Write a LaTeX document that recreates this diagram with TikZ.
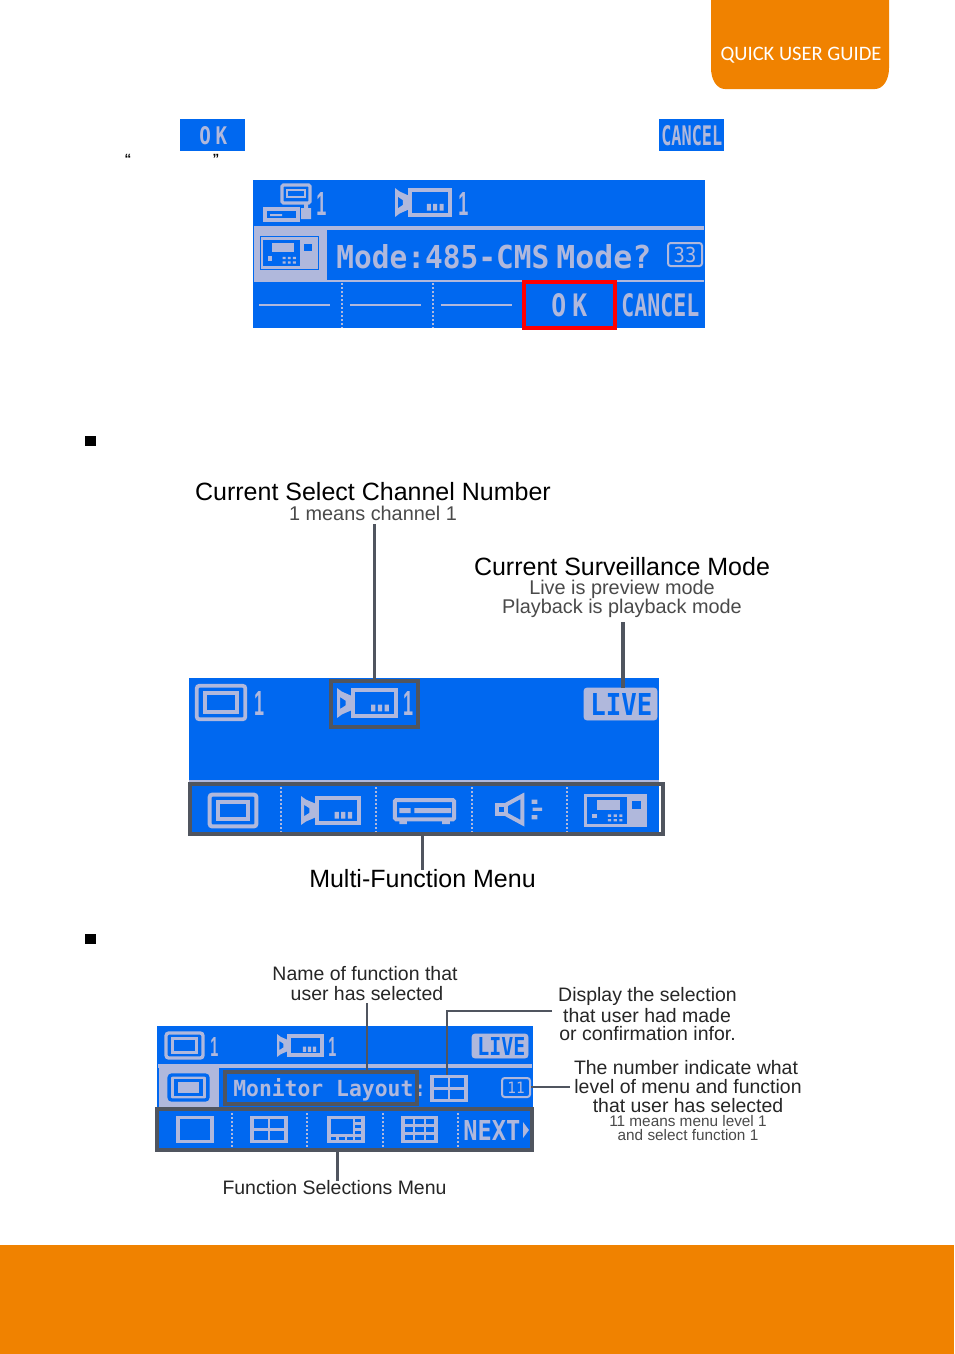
\documentclass[tikz,border=0pt]{standalone}
\usepackage{graphicx}
\usepackage{fontspec}
\setmainfont{Liberation Sans}
\newfontfamily\guidefont{Carlito}
\newfontfamily\lcdfont{DejaVu Sans Mono}
\definecolor{orangeband}{HTML}{F08200}
\definecolor{lcdblue}{HTML}{0068F0}
\definecolor{lcdfg}{HTML}{B0B8DC}
\definecolor{callout}{HTML}{50555F}
\definecolor{subtext}{HTML}{4A4A4A}
% box node from corners: style,name,x1,y1,x2,y2
\newcommand\bx[6]{\node[#1,minimum width={(#5-#3)*0.75pt},minimum height={(#6-#4)*0.75pt}] (#2) at ({(#3+#5)/2},{(#4+#6)/2}) {};}
% fitted LCD text: colour,x1,top,x2,baseline,text
\newcommand\lcd[6]{\pgfmathsetmacro\lw{(#4-#2)*0.75}\pgfmathsetmacro\lh{(#5-#3)*0.75}\node[anchor=base west,inner sep=0pt,text=#1] at (#2,#5) {\resizebox{\lw pt}{\lh pt}{\lcdfont\bfseries #6}};}
% LCD digit in a footless sans
\newcommand\lcdone[4]{\pgfmathsetmacro\lw{(#3-#1)*0.75}\pgfmathsetmacro\lh{(#4-#2)*0.75}\node[anchor=base west,inner sep=0pt,text=lcdfg] at (#1,#4) {\resizebox{\lw pt}{\lh pt}{\bfseries 1}};}
% icon frame: x1,y1,x2,y2, contents in a 0..100 box
\newcommand\place[5]{\pgfmathsetmacro\qw{(#3-#1)*0.0075}\pgfmathsetmacro\qh{(#4-#2)*0.0075}\begin{scope}[shift={(#1,#2)},x=\qw pt,y=-\qh pt]#5\end{scope}}
\newcommand\icmon[2][lcdfg]{\draw[#1,line width=#2pt,rounded corners=2pt] (5,7) rectangle (95,93);\draw[#1,line width=#2pt] (21,26) rectangle (79,74);}
\newcommand\iccam{\fill[lcdfg,even odd rule] (0,0) -- (8,12) -- (26,28) -- (26,72) -- (8,88) -- (0,100) -- cycle (5,30) -- (14,42) -- (14,58) -- (5,70) -- cycle;\draw[lcdfg,line width=3pt] (27,8) rectangle (97,92);\fill[lcdfg] (56,55) rectangle (63,78) (67,55) rectangle (74,78) (78,55) rectangle (85,78);}
\newcommand\iccons{\fill[lcdfg] (0,0) rectangle (100,100);\fill[lcdblue] (4,8) rectangle (68,92);\fill[lcdfg] (20,18) rectangle (57,48);\fill[lcdblue] (76,22) rectangle (90,44);\fill[lcdfg] (12,60) rectangle (20,74);\foreach\a in {38,47,56}{\fill[lcdfg] (\a,62) rectangle +(5,7) (\a,76) rectangle +(5,7);}}
\newcommand\icdvr{\draw[lcdfg,line width=3pt,rounded corners=1pt] (3,8) rectangle (97,82);\fill[lcdfg] (10,39) rectangle (28,58) (34,39) rectangle (92,58);\fill[lcdfg] (10,82) rectangle (22,100) (78,82) rectangle (90,100);}
\newcommand\icspk{\draw[lcdfg,line width=3pt] (4,34) rectangle (24,66);\draw[lcdfg,line width=3pt] (24,34) -- (58,6) -- (58,94) -- (24,66);\fill[lcdfg] (78,18) rectangle (90,32) (80,44) rectangle (100,54) (78,68) rectangle (90,82);}
\newcommand\icgrid[3][2.4]{\draw[lcdfg,line width=#1pt] (3,5) rectangle (97,95);\foreach\i in {1,...,#2}{\ifnum\i<#2\draw[lcdfg,line width=2pt] ({3+94*\i/#2},5) -- ({3+94*\i/#2},95);\fi}\foreach\i in {1,...,#3}{\ifnum\i<#3\draw[lcdfg,line width=2pt] (3,{5+90*\i/#3}) -- (97,{5+90*\i/#3});\fi}}
\tikzset{
  x=0.75pt,y=-0.75pt,
  panel/.style={fill=lcdblue,inner sep=0pt,outer sep=0pt},
  slab/.style={fill=lcdfg,inner sep=0pt,outer sep=0pt},
  callbox/.style={draw=callout,line width=2.4pt,inner sep=0pt,outer sep=0pt},
  redbox/.style={draw=red,line width=2.4pt,inner sep=0pt,outer sep=0pt},
  callline/.style={draw=callout,line width=2.5pt},
  thinline/.style={draw=callout,line width=2pt},
  rule/.style={draw=lcdfg,line width=3.2pt},
  fine/.style={draw=lcdfg,line width=1.6pt},
  sep/.style={draw=lcdfg,line width=1.5pt,dash pattern=on 1.3pt off 1.7pt},
  big/.style={inner sep=0pt,font=\fontsize{18.75pt}{18.75pt}\selectfont,text=black},
  mid/.style={inner sep=0pt,font=\fontsize{14.9pt}{14.9pt}\selectfont,text=subtext},
  lab/.style={inner sep=0pt,font=\fontsize{14.6pt}{14.6pt}\selectfont,text=black!85},
  tiny/.style={inner sep=0pt,font=\fontsize{11.5pt}{11.5pt}\selectfont,text=subtext},
}
\begin{document}
\begin{tikzpicture}
\useasboundingbox (0,0) rectangle (954,1354);
\fill[white] (0,0) rectangle (954,1354);
% page furniture
\fill[orangeband] (0,1245) rectangle (954,1354);
\fill[orangeband] (711,0) -- (889,0) -- (889,68) .. controls (889,80) and (883,89) .. (875,89) -- (725,89) .. controls (717,89) and (711,80) .. (711,68) -- cycle;
\node[inner sep=0pt,text=white,font=\guidefont\fontsize{15.4pt}{15.4pt}\selectfont] (guide) at (801,55) {QUICK USER GUIDE};
\fill[black] (85,436) rectangle (96,446);
\fill[black] (85,934) rectangle (96,944);
\node[inner sep=0pt,font=\bfseries\fontsize{10pt}{10pt}\selectfont] (qo) at (128,159) {“};
\node[inner sep=0pt,font=\bfseries\fontsize{10pt}{10pt}\selectfont] (qc) at (216,159) {”};
% inline buttons
\bx{panel}{okbtn}{180}{119}{245}{151}
\bx{panel}{cancelbtn}{659}{119}{724}{151}
\lcd{lcdfg}{199}{126}{227}{144}{O\kern.25em K}
\lcd{lcdfg}{661}{125}{722}{145}{CANCEL}
% panel 1
\bx{panel}{panelA}{253}{180}{705}{328}
\draw[lcdfg,line width=2.4pt,rounded corners=1pt] (282,185) rectangle (310,203);
\draw[lcdfg,line width=1.6pt] (287,190) rectangle (305,197);
\draw[lcdfg,line width=2.4pt] (265,209) rectangle (298,220);
\fill[lcdfg] (301,208) rectangle (311,219) (304,203) rectangle (308,209) (270,214) rectangle (282,216);
\lcdone{316}{192}{326}{215}
\place{395}{188}{452}{217}{\iccam}
\lcdone{458}{192}{468}{215}
\draw[rule] (254,228) -- (704,228);
\draw[rule,line width=2pt] (254,281) -- (704,281);
\bx{slab}{modeicon}{254}{226}{327}{282}
\place{261}{237}{318}{269}{\fill[lcdblue] (-2,-3) rectangle (102,103);\iccons}
\lcd{lcdfg}{336}{244}{549}{268}{Mode:485-CMS}
\lcd{lcdfg}{556}{244}{651}{268}{Mode?}
\draw[lcdfg,line width=1.5pt,rounded corners=2pt] (668,243) rectangle (702,266);
\node[inner sep=0pt,text=lcdfg] (levelA) at (685,255) {\resizebox{17pt}{11.5pt}{\lcdfont 33}};
\draw[sep] (342,283) -- (342,328);
\draw[sep] (433,283) -- (433,328);
\draw[sep,line width=.8pt] (523,283) -- (523,328);
\draw[fine] (259,305) -- (330,305);
\draw[fine] (350,305) -- (421,305);
\draw[fine] (441,305) -- (512,305);
\lcd{lcdfg}{551}{293}{587}{316}{O\kern.25em K}
\lcd{lcdfg}{621}{293}{699}{316}{CANCEL}
\bx{redbox}{okframe}{524}{282}{615}{328}
% panel 2
\node[big] (chan) at (373,492) {Current Select Channel Number};
\node[mid] (chansub) at (373,513) {1 means channel 1};
\node[big] (surv) at (622,567) {Current Surveillance Mode};
\node[mid] (survlive) at (622,589.5) {Live is preview mode};
\node[mid] (survplay) at (622,608.5) {Playback is playback mode};
\bx{panel}{panelB}{189}{678}{659}{834}
\place{194}{683}{248}{722}{\icmon{2.8}}
\lcdone{254}{691}{264}{715}
\place{337}{688}{398}{718}{\iccam}
\lcdone{403}{691}{413}{715}
\bx{callbox}{chanbox}{331}{681}{418}{727}
\draw[fill=lcdfg,draw=lcdfg,rounded corners=2pt] (584,688) rectangle (657,720);
\lcd{lcdblue}{590}{693}{652}{715}{LIVE}
\coordinate (livetop) at (623,688);
\draw[lcdfg,line width=.8pt] (189,781) -- (659,781);
\bx{callbox}{menubar}{190}{784}{663}{834}
\draw[sep] (281,787) -- (281,832);
\draw[sep] (376,787) -- (376,832);
\draw[sep] (472,787) -- (472,832);
\draw[sep] (567,787) -- (567,832);
\place{207}{792}{259}{829}{\icmon{3}}
\place{301}{796}{361}{825}{\iccam}
\place{393}{798}{456}{824}{\icdvr}
\place{495}{794}{542}{825}{\icspk}
\place{584}{794}{647}{827}{\iccons}
\node[big] (multi) at (422.5,879) {Multi-Function Menu};
\draw[callline] (chanbox.north) -- ([yshift=-2.5pt]chanbox.north |- chansub.south);
\draw[callline] (livetop) -- ([yshift=-3pt]livetop |- survplay.south);
\draw[thinline] (menubar.south -| multi.north) -- (multi.north);
% panel 3
\node[lab] (name1) at (365,973.5) {Name of function that};
\node[lab] (name2) at (367,993.5) {user has selected};
\node[lab] (disp1) at (647.5,996.5) {Display the selection};
\node[lab] (disp2) at (647,1015.5) {that user had made};
\node[lab] (disp3) at (647.5,1034) {or confirmation infor.};
\node[lab] (num1) at (686,1068) {The number indicate what};
\node[lab] (num2) at (688,1087) {level of menu and function};
\node[lab] (num3) at (688,1106) {that user has selected};
\node[tiny] (num4) at (688,1121) {11 means menu level 1};
\node[tiny] (num5) at (688,1135) {and select function 1};
\bx{panel}{panelC}{157}{1026}{533}{1150}
\place{164}{1031}{205}{1060}{\icmon{2.5}}
\lcdone{210}{1037}{218}{1056}
\place{277}{1034}{323}{1057}{\iccam}
\lcdone{328}{1037}{336}{1056}
\draw[fill=lcdfg,draw=lcdfg,rounded corners=2pt] (472,1034) rectangle (528,1058);
\lcd{lcdblue}{477}{1037}{525}{1055}{LIVE}
\draw[rule] (158,1066) -- (532,1066);
\bx{slab}{funcicon}{159}{1064}{219}{1107}
\place{167}{1073}{210}{1102}{\fill[lcdfg] (21,26) rectangle (79,74);\icmon[lcdblue]{2.5}}
\lcd{lcdfg}{233}{1078}{426}{1096}{Monitor Layout:}
\bx{callbox}{funcname}{225}{1072}{417}{1104}
\place{431}{1075}{467}{1102}{\icgrid{2}{2}}
\coordinate (gridtop) at (447,1075);
\coordinate (dispjoin) at (552,1011);
\draw[lcdfg,line width=1.5pt,rounded corners=2pt] (502,1078) rectangle (530,1097);
\node[inner sep=0pt,text=lcdfg] (levelC) at (516,1088) {\resizebox{13pt}{8.5pt}{\lcdfont 11}};
\coordinate (leveltip) at (531,1087);
\bx{callbox}{fnbar}{157}{1109}{532}{1150}
\draw[sep] (232,1113) -- (232,1148);
\draw[sep] (307,1113) -- (307,1148);
\draw[sep] (383,1113) -- (383,1148);
\draw[sep] (458,1113) -- (458,1148);
\place{177}{1116}{213}{1143}{\icgrid{1}{1}}
\place{251}{1116}{287}{1143}{\icgrid{2}{2}}
\place{328}{1116}{364}{1143}{\icgrid{1}{1}\draw[lcdfg,line width=2pt] (72,5) -- (72,95) (3,72) -- (97,72) (72,28) -- (97,28) (72,50) -- (97,50) (26,72) -- (26,95) (50,72) -- (50,95);}
\place{402}{1116}{437}{1143}{\icgrid{3}{3}}
\lcd{lcdfg}{463}{1120}{520}{1140}{NEXT}
\fill[lcdfg] (523,1122) -- (529,1130) -- (523,1138) -- cycle;
\node[lab] (fnmenu) at (334.5,1188) {Function Selections Menu};
\draw[thinline] (funcname.north -| name2.south) -- ([yshift=-1.5pt]name2.south);
\draw[thinline] (dispjoin) -| (gridtop);
\draw[thinline] (leveltip) -- ([xshift=-3pt]leveltip -| num2.west);
\draw[callline] ([xshift=2pt]fnbar.south -| fnmenu.north) -- ([xshift=2pt]fnmenu.north);
\end{tikzpicture}
\end{document}
